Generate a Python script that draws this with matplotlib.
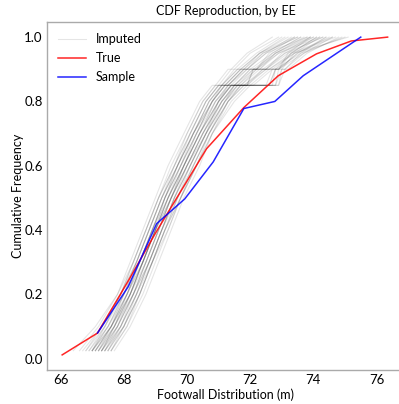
import matplotlib
matplotlib.use("Agg")
import matplotlib.pyplot as plt

# ---- data ----
true_x = [66.05, 67.17, 68.1, 69.0, 69.8, 70.62, 71.8, 72.89, 74.1, 75.2, 76.35]
true_f = [0.012, 0.08, 0.235, 0.39, 0.52, 0.653, 0.781, 0.88, 0.948, 0.988, 1.0]

sample_x = [67.17, 68.14, 69.04, 69.93, 70.83, 71.8, 72.78, 73.68, 75.5]
sample_f = [0.08, 0.224, 0.42, 0.497, 0.612, 0.778, 0.80, 0.88, 1.0]

imputed_f = [0.025, 0.1, 0.2, 0.3, 0.4, 0.5, 0.6, 0.7, 0.8, 0.85, 0.85, 0.9, 0.9, 0.95, 1.0]
imputed_x = [
    [67.0, 67.5, 68.0, 68.4, 68.8, 69.2, 69.6, 70.1, 70.6, 71.0, 71.1, 71.6, 71.7, 72.3, 73.4],
    [67.3, 67.8, 68.3, 68.7, 69.1, 69.5, 70.0, 70.5, 71.1, 71.5, 71.6, 72.2, 72.3, 72.9, 74.0],
    [67.5, 68.0, 68.5, 68.9, 69.3, 69.7, 70.2, 70.7, 71.3, 71.7, 72.9, 73.1, 73.2, 73.8, 74.8],
    [66.8, 67.3, 67.9, 68.3, 68.7, 69.1, 69.5, 70.0, 70.5, 70.9, 71.0, 71.4, 71.5, 72.0, 72.9],
    [67.4, 67.9, 68.4, 68.8, 69.2, 69.6, 70.1, 70.6, 71.2, 71.5, 72.6, 72.8, 72.9, 73.5, 74.5],
    [67.1, 67.6, 68.1, 68.5, 68.9, 69.3, 69.8, 70.3, 70.8, 71.2, 71.3, 71.8, 71.9, 72.4, 73.5],
    [67.6, 68.1, 68.6, 69.0, 69.4, 69.8, 70.3, 70.8, 71.5, 72.0, 72.1, 72.7, 72.8, 73.6, 75.0],
    [67.2, 67.7, 68.2, 68.6, 69.0, 69.4, 69.9, 70.4, 70.9, 71.4, 72.8, 72.9, 73.0, 73.4, 74.2],
    [66.9, 67.4, 67.9, 68.4, 68.8, 69.2, 69.7, 70.2, 70.7, 71.1, 71.2, 71.7, 72.5, 73.0, 73.9],
    [67.3, 67.9, 68.4, 68.8, 69.2, 69.7, 70.2, 70.7, 71.3, 71.8, 71.9, 72.5, 72.6, 73.3, 74.6],
    [67.0, 67.6, 68.1, 68.6, 69.0, 69.5, 70.0, 70.5, 71.0, 71.4, 71.5, 72.1, 72.2, 72.8, 73.7],
    [67.5, 67.9, 68.3, 68.7, 69.1, 69.5, 69.9, 70.4, 71.0, 71.3, 72.7, 72.8, 72.9, 73.7, 74.9],
    [66.6, 67.2, 67.8, 68.2, 68.6, 69.0, 69.4, 69.9, 70.4, 70.8, 70.9, 71.3, 71.4, 71.9, 72.7],
    [67.4, 67.8, 68.2, 68.6, 69.0, 69.3, 69.8, 70.2, 70.8, 71.2, 71.3, 71.9, 72.9, 73.3, 74.1],
    [67.1, 67.7, 68.3, 68.8, 69.2, 69.6, 70.0, 70.5, 71.1, 71.6, 71.7, 72.3, 72.4, 73.1, 74.3],
    [67.2, 67.6, 68.0, 68.5, 68.9, 69.3, 69.7, 70.2, 70.7, 71.1, 71.9, 72.1, 72.2, 72.7, 73.6],
    [67.6, 68.1, 68.5, 68.9, 69.3, 69.8, 70.3, 70.8, 71.4, 71.9, 72.0, 72.6, 72.7, 73.4, 74.7],
    [66.9, 67.5, 68.0, 68.5, 68.9, 69.3, 69.8, 70.3, 70.8, 71.2, 71.3, 71.8, 71.9, 72.5, 73.3],
    [67.3, 67.7, 68.1, 68.5, 68.9, 69.4, 69.9, 70.4, 70.9, 71.3, 72.8, 73.0, 73.1, 73.6, 74.4],
    [67.0, 67.5, 68.1, 68.6, 69.0, 69.4, 69.8, 70.3, 70.8, 71.2, 71.3, 71.8, 71.9, 72.5, 73.8],
    [67.7, 68.2, 68.7, 69.1, 69.5, 69.9, 70.4, 70.8, 71.3, 71.7, 71.8, 72.4, 72.5, 73.2, 74.3],
    [67.2, 67.8, 68.3, 68.7, 69.1, 69.5, 70.0, 70.6, 71.2, 71.6, 71.7, 72.2, 72.3, 72.8, 73.9],
    [66.4, 67.1, 67.8, 68.3, 68.7, 69.1, 69.6, 70.1, 70.6, 71.0, 71.1, 71.5, 71.6, 72.2, 73.0],
    [67.4, 68.0, 68.5, 68.9, 69.3, 69.7, 70.1, 70.6, 71.1, 71.5, 72.5, 72.7, 72.8, 73.3, 74.1],
    [67.1, 67.6, 68.2, 68.6, 69.0, 69.4, 69.9, 70.3, 70.9, 71.3, 71.4, 71.9, 72.0, 72.7, 73.6],
    [67.5, 68.0, 68.4, 68.8, 69.2, 69.6, 70.1, 70.6, 71.2, 71.7, 71.8, 72.5, 72.6, 73.4, 75.1],
    [67.0, 67.4, 67.9, 68.3, 68.7, 69.1, 69.6, 70.0, 70.5, 70.9, 71.9, 72.1, 72.2, 72.6, 73.4],
    [67.3, 67.8, 68.3, 68.8, 69.2, 69.6, 70.1, 70.6, 71.0, 71.4, 71.5, 72.0, 72.1, 72.8, 73.8],
    [67.2, 67.7, 68.2, 68.7, 69.1, 69.5, 70.0, 70.5, 71.1, 71.5, 71.6, 72.1, 72.2, 72.9, 74.2],
    [66.7, 67.3, 67.9, 68.4, 68.8, 69.2, 69.7, 70.1, 70.6, 71.0, 71.1, 71.6, 71.7, 72.3, 73.2],
    [67.4, 67.9, 68.4, 68.9, 69.3, 69.8, 70.2, 70.7, 71.2, 71.6, 72.9, 73.0, 73.1, 73.7, 74.6],
    [67.1, 67.6, 68.1, 68.5, 68.9, 69.3, 69.7, 70.2, 70.8, 71.1, 71.2, 71.7, 71.8, 72.4, 73.5],
    [67.6, 68.0, 68.5, 68.9, 69.4, 69.8, 70.3, 70.7, 71.3, 71.8, 71.9, 72.4, 72.5, 73.1, 74.0],
    [67.0, 67.6, 68.2, 68.6, 69.0, 69.4, 69.9, 70.4, 71.0, 71.4, 71.5, 72.0, 72.9, 73.2, 73.9],
    [67.3, 67.7, 68.2, 68.6, 69.0, 69.5, 69.9, 70.4, 71.0, 71.4, 72.6, 72.8, 72.9, 73.5, 74.4],
    [66.8, 67.4, 68.0, 68.4, 68.8, 69.2, 69.7, 70.2, 70.7, 71.1, 71.2, 71.7, 71.8, 72.3, 73.1],
]

x_ticks = [66, 68, 70, 72, 74, 76]
y_ticks = [0.0, 0.2, 0.4, 0.6, 0.8, 1.0]

plt.rcParams['font.family'] = ['Lato', 'DejaVu Sans']
plt.rcParams['font.size'] = 9

fig = plt.figure(figsize=(3.99, 4.04), dpi=100)
ax = fig.add_axes([47/399, 34/404, (405-47)/399, (370-22)/404])

for i, xs in enumerate(imputed_x):
    ax.plot(xs, imputed_f, color='black', alpha=0.1, lw=0.8,
            label='Imputed' if i == 0 else None)
ax.plot(true_x, true_f, color='red', alpha=0.85, lw=1.1, label='True')
ax.plot(sample_x, sample_f, color='blue', alpha=0.85, lw=1.1, label='Sample')

ax.set_xlim(65.57, 76.9)
ax.set_ylim(-0.035, 1.047)
ax.set_xticks(x_ticks)
ax.set_xticklabels([str(t) for t in x_ticks])
ax.set_yticks(y_ticks)
ax.set_yticklabels([f"{t:.1f}" for t in y_ticks])
ax.tick_params(length=0, pad=3, labelsize=9.5)
for s in ax.spines.values():
    s.set_color('#aaaaaa')
    s.set_linewidth(1.0)

ax.set_title('CDF Reproduction, by EE', fontsize=9, pad=5)
ax.set_xlabel('Footwall Distribution (m)', fontsize=9, labelpad=2)
ax.set_ylabel('Cumulative Frequency', fontsize=9, labelpad=0)

leg = ax.legend(loc='upper left', frameon=False, fontsize=9,
                labelspacing=0.55, handlelength=2.2)

fig.savefig('out.png', dpi=100)
